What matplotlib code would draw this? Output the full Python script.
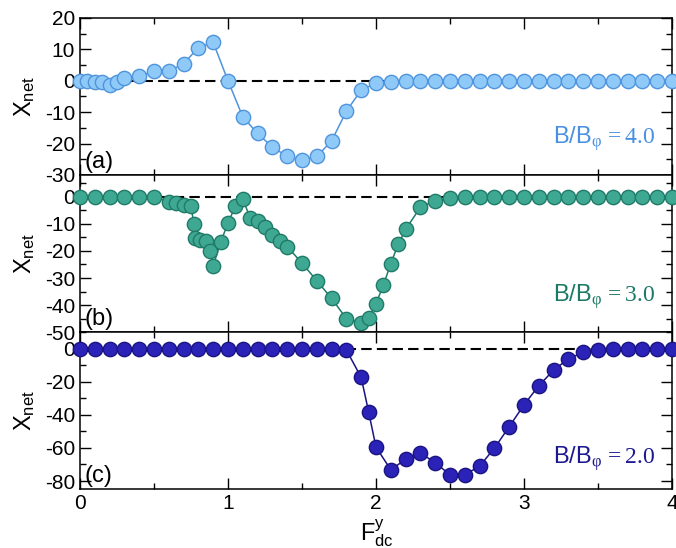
import numpy as np
import matplotlib
matplotlib.use("Agg")
import matplotlib.pyplot as plt
from matplotlib.ticker import MultipleLocator

plt.rcParams["font.family"] = ["Liberation Sans", "DejaVu Sans"]
plt.rcParams["mathtext.fontset"] = "custom"
plt.rcParams["mathtext.rm"] = "Liberation Serif"
plt.rcParams["mathtext.it"] = "Liberation Serif:italic"
plt.rcParams["mathtext.sf"] = "Liberation Sans"
plt.rcParams["axes.unicode_minus"] = False

# 1- Data
xa = [0, 0.05, 0.1, 0.15, 0.2, 0.25, 0.3, 0.4, 0.5, 0.6, 0.7, 0.8, 0.9, 1.0,
      1.1, 1.2, 1.3, 1.4, 1.5, 1.6, 1.7, 1.8, 1.9, 2.0, 2.1, 2.2, 2.3, 2.4,
      2.5, 2.6, 2.7, 2.8, 2.9, 3.0, 3.1, 3.2, 3.3, 3.4, 3.5, 3.6, 3.7, 3.8,
      3.9, 4.0]
ya = [0, 0, -0.3, -0.5, -1.5, -0.5, 1.0, 1.4, 3.0, 3.0, 5.4, 10.5, 12.2, 0,
      -11.5, -16.8, -21.1, -24.1, -25.3, -24.1, -19.2, -9.7, -3.0, -0.8, -0.4, 0, 0, 0,
      0, 0, 0, 0, 0, 0, 0, 0, 0, 0, 0, 0, 0, 0,
      0, 0]

xb = [0, 0.1, 0.2, 0.3, 0.4, 0.5, 0.6, 0.65, 0.7, 0.75, 0.77, 0.78, 0.81, 0.85,
      0.88, 0.9, 0.95, 1.0, 1.05, 1.1, 1.15, 1.2, 1.25, 1.3, 1.35, 1.4, 1.5, 1.6,
      1.7, 1.8, 1.9, 1.95, 2.0, 2.05, 2.1, 2.15, 2.2, 2.3, 2.4, 2.5, 2.6, 2.7,
      2.8, 2.9, 3.0, 3.1, 3.2, 3.3, 3.4, 3.5, 3.6, 3.7, 3.8, 3.9, 4.0]
yb = [0, 0, 0, 0, 0, 0, -1.8, -2.3, -2.9, -3.4, -10.2, -15.1, -15.9, -16.4,
      -20.0, -25.6, -16.8, -9.8, -3.4, -1.0, -7.7, -8.9, -11.3, -14.1, -16.4, -18.4, -24.5, -31.0,
      -37.5, -45.0, -46.6, -44.8, -39.5, -32.7, -24.7, -17.6, -12.1, -3.9, -1.5, -0.5, 0, 0,
      0, 0, 0, 0, 0, 0, 0, 0, 0, 0, 0, 0, 0]

xc = [0, 0.1, 0.2, 0.3, 0.4, 0.5, 0.6, 0.7, 0.8, 0.9, 1.0, 1.1, 1.2, 1.3,
      1.4, 1.5, 1.6, 1.7, 1.8, 1.9, 1.95, 2.0, 2.1, 2.2, 2.3, 2.4, 2.5, 2.6,
      2.7, 2.8, 2.9, 3.0, 3.1, 3.2, 3.3, 3.4, 3.5, 3.6, 3.7, 3.8, 3.9, 4.0]
yc = [0, 0, 0, 0, 0, 0, 0, 0, 0, 0, 0, 0, 0, 0,
      0, 0, 0, 0, -0.8, -17.3, -38.0, -59.4, -73.2, -66.9, -63.0, -68.9, -76.2, -76.2,
      -71.0, -60.2, -47.2, -34.0, -22.4, -13.0, -6.1, -2.3, -0.5, 0, 0, 0, 0, 0]

b_ratio = ["4.0", "3.0", "2.0"]
panel_tags = ["(a)", "(b)", "(c)"]

panels = [
    (xa, ya, "#8ec9f8", "#4f94dc", "#4a90e2", (-30, 20), 10, 5),
    (xb, yb, "#3fa892", "#1f7a68", "#1b7a66", (-50, 8), 10, 5),
    (xc, yc, "#2b22b8", "#1a1482", "#1c1890", (-85, 10), 20, 10),
]
text_y = [0.2, 0.195, 0.166]

# 2- Layout
fig = plt.figure(figsize=(6.76, 5.48), dpi=100)
left, width, h = 0.1183, 0.8757, 0.2868
bottoms = [0.6807, 0.3938, 0.1071]

for i, (x, y, fc, ec, tc, ylim, major, minor) in enumerate(panels):
    ax = fig.add_axes([left, bottoms[i], width, h])
    ax.plot([0, 4], [0, 0], color="black", lw=1.5, ls=(0, (5, 2.5)), zorder=1)
    ax.plot(x, y, "-o", color=ec, lw=1.1, ms=10.3, mfc=fc, mec=ec, mew=1.0,
            zorder=3, clip_on=False)
    ax.set_xlim(0, 4)
    ax.set_ylim(*ylim)
    ax.xaxis.set_major_locator(MultipleLocator(1))
    ax.xaxis.set_minor_locator(MultipleLocator(0.5))
    ax.yaxis.set_major_locator(MultipleLocator(major))
    ax.yaxis.set_minor_locator(MultipleLocator(minor))
    ax.tick_params(which="both", direction="in", top=True, right=True,
                   labelsize=15, width=1.0)
    ax.tick_params(which="major", length=8)
    ax.tick_params(which="minor", length=4.5)
    for s in ax.spines.values():
        s.set_linewidth(1.1)
    if i < 2:
        ax.tick_params(labelbottom=False)
    ax.set_ylabel(r"X$_{\mathsf{net}}$", fontsize=17)
    ax.yaxis.set_label_coords(-0.073, 0.5)
    ax.text(0.008, 0.015, panel_tags[i], transform=ax.transAxes, fontsize=17,
            ha="left", va="bottom")
    ann = r"B/B$_{\mathrm{φ}}$$\mathrm{\,=%s}$" % b_ratio[i]
    ax.text(0.972, text_y[i], ann, transform=ax.transAxes, fontsize=17,
            ha="right", va="baseline", color=tc)

fig.text(376.5 / 676, 0.011, r"F$^{\mathsf{y}}_{\mathsf{dc}}$", fontsize=17,
         ha="center", va="baseline")

plt.savefig("out.png", dpi=100)
